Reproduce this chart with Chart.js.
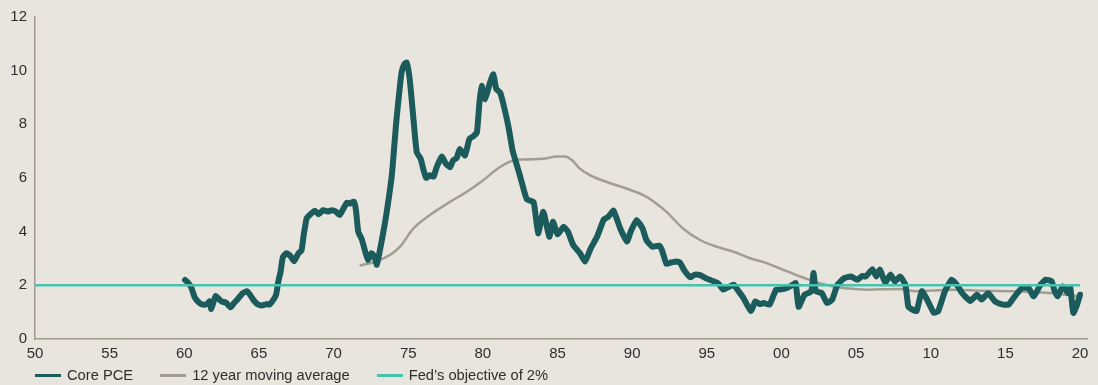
<!DOCTYPE html>
<html lang="en">
<head>
    <meta charset="UTF-8">
    <title>Core PCE inflation</title>
    <script src="https://cdn.jsdelivr.net/npm/chart.js"></script>
    <style>
        body { margin: 0; background: #e8e5df; font-family: "Liberation Sans", Arial, sans-serif; overflow: hidden; }
        #wrap { position: relative; width: 1098px; height: 369px; }
        #legend { position: absolute; left: 0; top: 366px; display: flex; align-items: center; padding-left: 35px; height: 18px; font-size: 14.7px; color: #2e2e2e; }
        #legend .item { display: flex; align-items: center; margin-right: 27px; }
        #legend .swatch { width: 26px; height: 3px; margin-right: 6px; }
    </style>
</head>
<body>
    <div id="wrap"><canvas id="pceChart"></canvas></div>
    <div id="legend"></div>

    <script>
        // year (decimal) / annual % change
        const pceYears = [
            1960.05, 1960.25, 1960.45, 1960.7, 1961.0, 1961.25, 1961.5, 1961.7, 1961.8, 1962.1,
            1962.3, 1962.5, 1962.8, 1963.1, 1963.35, 1963.6, 1963.9, 1964.2, 1964.4, 1964.6,
            1964.9, 1965.2, 1965.5, 1965.7, 1965.95, 1966.15, 1966.3, 1966.45, 1966.6, 1966.85,
            1967.1, 1967.35, 1967.65, 1967.85, 1968.0, 1968.2, 1968.45, 1968.75, 1969.0, 1969.3,
            1969.6, 1969.9, 1970.15, 1970.4, 1970.65, 1970.9, 1971.1, 1971.35, 1971.5, 1971.65,
            1971.9, 1972.1, 1972.3, 1972.55, 1972.75, 1972.9, 1973.1, 1973.3, 1973.55, 1973.9,
            1974.2, 1974.4, 1974.56, 1974.75, 1974.9, 1975.1, 1975.35, 1975.57, 1975.83, 1976.0,
            1976.2, 1976.45, 1976.7, 1976.9, 1977.25, 1977.5, 1977.8, 1978.0, 1978.25, 1978.45,
            1978.8, 1979.1, 1979.35, 1979.6, 1979.77, 1979.92, 1980.15, 1980.48, 1980.7, 1980.9,
            1981.15, 1981.35, 1981.7, 1982.0, 1982.4, 1982.6, 1982.95, 1983.4, 1983.7, 1984.05,
            1984.45, 1984.7, 1985.0, 1985.4, 1985.7, 1986.05, 1986.5, 1986.85, 1987.2, 1987.65,
            1988.1, 1988.4, 1988.75, 1989.2, 1989.65, 1989.9, 1990.3, 1990.7, 1990.95, 1991.35,
            1991.8, 1992.0, 1992.3, 1992.6, 1993.0, 1993.2, 1993.5, 1993.9, 1994.2, 1994.55,
            1995.0, 1995.45, 1995.8, 1996.1, 1996.5, 1996.8, 1997.1, 1997.45, 1997.95, 1998.25,
            1998.55, 1998.8, 1999.2, 1999.45, 1999.65, 2000.0, 2000.35, 2000.7, 2000.95, 2001.15,
            2001.55, 2002.0, 2002.15, 2002.3, 2002.7, 2003.05, 2003.4, 2003.75, 2004.2, 2004.65,
            2005.1, 2005.4, 2005.65, 2006.1, 2006.35, 2006.6, 2006.95, 2007.3, 2007.6, 2007.95,
            2008.3, 2008.5, 2008.75, 2009.05, 2009.4, 2009.7, 2010.2, 2010.5, 2010.95, 2011.4,
            2011.75, 2012.1, 2012.65, 2013.1, 2013.4, 2013.85, 2014.3, 2014.85, 2015.2, 2015.55,
            2016.1, 2016.55, 2016.9, 2017.35, 2017.7, 2018.1, 2018.3, 2018.5, 2018.85, 2019.2,
            2019.35, 2019.55, 2019.8, 2020.0
        ];
        const pceValues = [
            2.2, 2.1, 1.95, 1.55, 1.35, 1.28, 1.3, 1.4, 1.12, 1.6,
            1.5, 1.4, 1.35, 1.18, 1.35, 1.5, 1.7, 1.78, 1.65, 1.48,
            1.3, 1.25, 1.3, 1.28, 1.45, 1.65, 2.15, 2.5, 3.05, 3.2,
            3.1, 2.9, 3.2, 3.3, 3.88, 4.5, 4.65, 4.78, 4.65, 4.8,
            4.75, 4.8, 4.75, 4.62, 4.85, 5.08, 5.05, 5.12, 4.8, 4.0,
            3.7, 3.3, 2.95, 3.2, 3.05, 2.77, 3.3, 3.88, 4.7, 6.1,
            8.1, 9.2, 9.95, 10.25, 10.3, 9.68, 8.2, 6.96, 6.72, 6.35,
            6.0, 6.1, 6.05, 6.4, 6.8, 6.55, 6.4, 6.65, 6.75, 7.08,
            6.84, 7.46, 7.55, 7.7, 8.81, 9.43, 8.94, 9.56, 9.86, 9.31,
            9.19, 8.81, 7.95, 7.0, 6.25, 5.85, 5.2, 5.1, 3.94, 4.74,
            3.81, 4.37, 3.9, 4.18, 4.0, 3.5, 3.2, 2.89, 3.35, 3.81,
            4.45, 4.55, 4.78, 4.12, 3.63, 4.0, 4.43, 4.12, 3.69, 3.44,
            3.48, 3.3, 2.8, 2.85, 2.89, 2.85, 2.55, 2.3, 2.4, 2.38,
            2.25, 2.15, 2.05, 1.84, 1.95, 2.02, 1.8, 1.53, 1.04, 1.4,
            1.3, 1.34, 1.28, 1.6, 1.84, 1.85, 1.9, 2.0, 2.08, 1.2,
            1.65, 1.78, 2.46, 1.78, 1.71, 1.34, 1.47, 2.02, 2.27, 2.33,
            2.21, 2.35, 2.33, 2.6, 2.33, 2.58, 2.1, 2.4, 2.15, 2.33,
            2.02, 1.2, 1.1, 1.04, 1.78, 1.53, 0.98, 1.04, 1.78, 2.21,
            2.02, 1.71, 1.42, 1.65, 1.47, 1.71, 1.4, 1.28, 1.28, 1.53,
            1.9, 1.9, 1.59, 2.02, 2.21, 2.15, 1.78, 1.6, 1.96, 1.71,
            1.9, 0.97, 1.28, 1.65
        ];

        const avgYears = [
            1971.75, 1972.85, 1973.8, 1974.45, 1975.35, 1976.45, 1977.8, 1978.9, 1980.0, 1981.15,
            1982.05, 1982.9, 1984.05, 1984.95, 1985.5, 1986.0, 1986.5, 1987.2, 1988.3, 1989.65,
            1990.75, 1991.5, 1992.3, 1993.4, 1994.55, 1995.65, 1996.75, 1997.9, 1999.0, 2000.1,
            2001.25, 2002.35, 2003.45, 2004.55, 2005.7, 2007.9, 2009.05, 2011.3, 2013.5, 2015.7,
            2017.95, 2019.95
        ];
        const avgValues = [
            2.74, 2.89, 3.14, 3.44, 4.12, 4.62, 5.11, 5.48, 5.91, 6.41,
            6.65, 6.69, 6.72, 6.8, 6.8, 6.65, 6.35, 6.1, 5.85, 5.6,
            5.36, 5.1, 4.74, 4.12, 3.69, 3.44, 3.26, 3.01, 2.83, 2.58,
            2.33, 2.12, 1.96, 1.88, 1.84, 1.86, 1.78, 1.84, 1.8, 1.78,
            1.71, 1.59
        ];

        const fedTarget = 2;
        const fedSpan = [1950, 2020];

        const xTicks = [1950, 1955, 1960, 1965, 1970, 1975, 1980, 1985, 1990, 1995, 2000, 2005, 2010, 2015, 2020];
        const yTicks = [0, 2, 4, 6, 8, 10, 12];

        const seriesNames = ["Core PCE", "12 year moving average", "Fed\u2019s objective of 2%"];
        const seriesColors = ["#1b5b5b", "#a29d92", "#45c3af"];

        const pts = (xs, ys) => xs.map((x, i) => ({ x: x, y: ys[i] }));

        const tickFont = { family: "'Liberation Sans', Arial, sans-serif", size: 15 };

        const chart = new Chart(document.getElementById("pceChart"), {
            type: "line",
            data: {
                datasets: [
                    {
                        label: seriesNames[0],
                        data: pts(pceYears, pceValues),
                        borderColor: seriesColors[0],
                        borderWidth: 6,
                        borderJoinStyle: "round",
                        borderCapStyle: "round",
                        tension: 0.15,
                        pointRadius: 0,
                        order: 1
                    },
                    {
                        label: seriesNames[1],
                        data: pts(avgYears, avgValues),
                        borderColor: seriesColors[1],
                        borderWidth: 2.5,
                        cubicInterpolationMode: "monotone",
                        pointRadius: 0,
                        order: 2
                    },
                    {
                        label: seriesNames[2],
                        data: pts(fedSpan, [fedTarget, fedTarget]),
                        borderColor: seriesColors[2],
                        borderWidth: 2.5,
                        pointRadius: 0,
                        order: 0
                    }
                ]
            },
            options: {
                responsive: true,
                maintainAspectRatio: false,
                animation: false,
                layout: { padding: { left: 0, right: 10.5, top: 14, bottom: 0 } },
                plugins: { legend: { display: false }, tooltip: { enabled: false } },
                scales: {
                    x: {
                        type: "linear",
                        min: 1950,
                        max: 2020.5,
                        afterBuildTicks: s => { s.ticks = xTicks.map(v => ({ value: v })); },
                        ticks: {
                            callback: v => String(v % 100).padStart(2, "0"),
                            color: "#2e2e2e",
                            font: tickFont,
                            padding: 6,
                            maxRotation: 0,
                            autoSkip: false
                        },
                        grid: { display: false, drawTicks: false },
                        border: { color: "#9f998f", width: 1.5 }
                    },
                    y: {
                        min: 0,
                        max: 12,
                        afterBuildTicks: s => { s.ticks = yTicks.map(v => ({ value: v })); },
                        afterFit: s => { s.width = 35; },
                        ticks: { color: "#2e2e2e", font: tickFont, padding: 8 },
                        grid: { display: false, drawTicks: false },
                        border: { color: "#9f998f", width: 1.5 }
                    }
                }
            }
        });

        // legend row under the chart
        const legend = document.getElementById("legend");
        chart.data.datasets.forEach(ds => {
            const item = document.createElement("div");
            item.className = "item";
            const sw = document.createElement("span");
            sw.className = "swatch";
            sw.style.background = ds.borderColor;
            const txt = document.createElement("span");
            txt.textContent = ds.label;
            item.appendChild(sw);
            item.appendChild(txt);
            legend.appendChild(item);
        });
    </script>
</body>
</html>
